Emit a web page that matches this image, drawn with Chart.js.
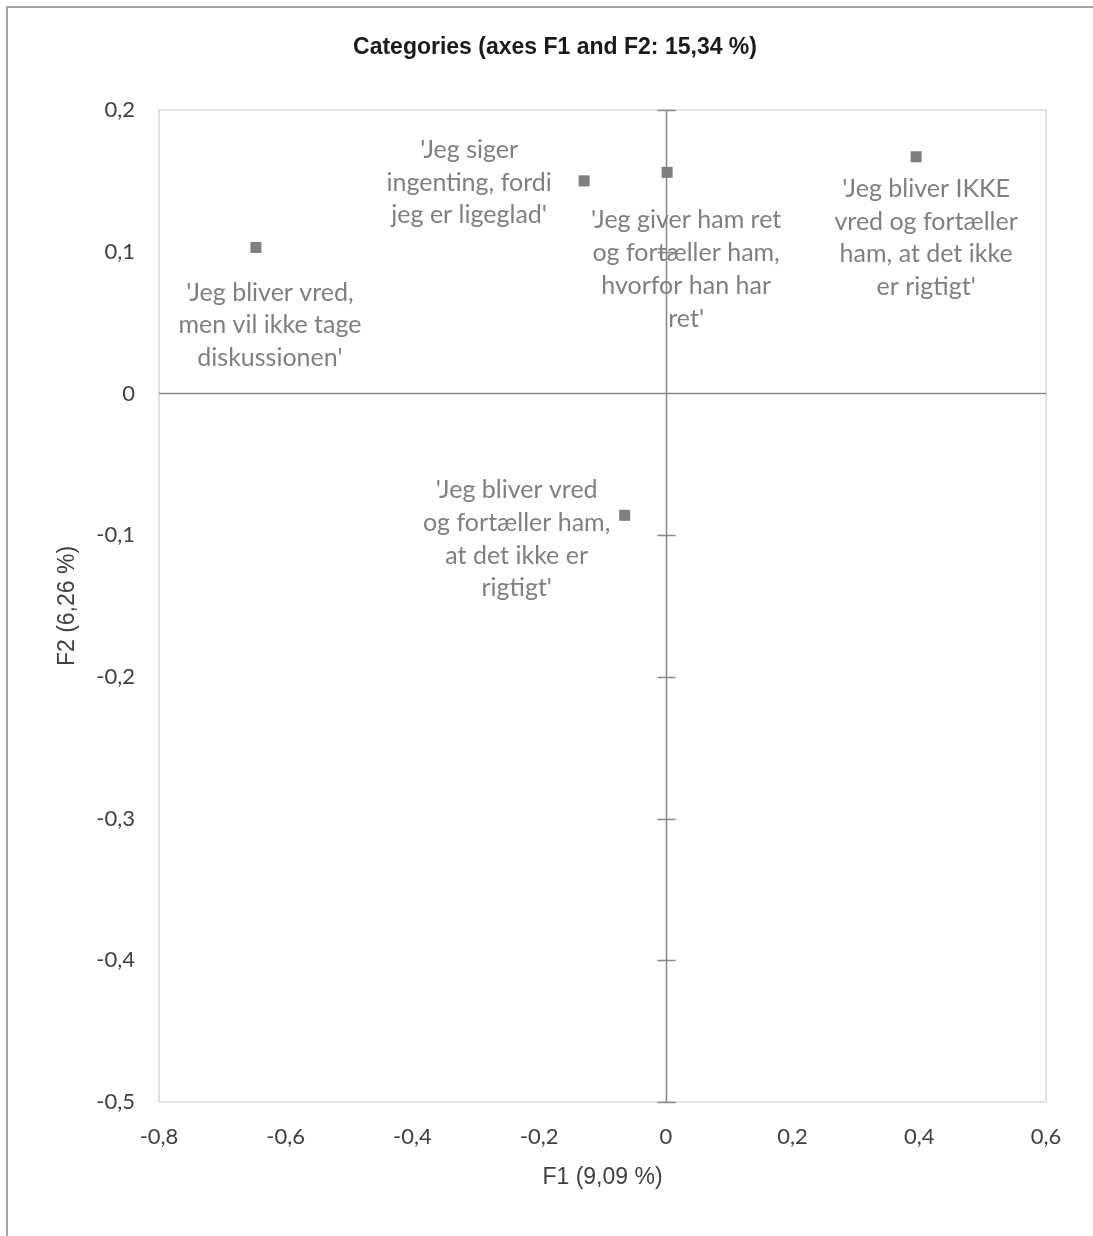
<!DOCTYPE html>
<html lang="da">
<head>
    <meta charset="UTF-8">
    <title>Categories (axes F1 and F2)</title>
    <script src="https://cdn.jsdelivr.net/npm/chart.js"></script>
    <style>
        body {
            margin: 0;
            padding: 0;
            background: #ffffff;
        }
        #ramme {
            position: absolute;
            left: 6px;
            top: 6px;
            width: 1200px;
            height: 1300px;
            border-left: 2px solid #a5a5a5;
            border-top: 2px solid #a5a5a5;
        }
        #graf {
            position: absolute;
            left: 0;
            top: 0;
        }
    </style>
</head>
<body>
<div id="ramme"></div>
<canvas id="graf" width="1093" height="1236"></canvas>
<script>
    // data
    const kategorier = [
        ["'Jeg bliver vred,", "men vil ikke tage", "diskussionen'"],
        ["'Jeg siger", "ingenting, fordi", "jeg er ligeglad'"],
        ["'Jeg giver ham ret", "og fortæller ham,", "hvorfor han har", "ret'"],
        ["'Jeg bliver IKKE", "vred og fortæller", "ham, at det ikke", "er rigtigt'"],
        ["'Jeg bliver vred", "og fortæller ham,", "at det ikke er", "rigtigt'"]
    ];
    const f1 = [-0.647, -0.129, 0.002, 0.395, -0.065];
    const f2 = [0.103, 0.150, 0.156, 0.167, -0.086];
    const xTicks = [-0.8, -0.6, -0.4, -0.2, 0, 0.2, 0.4, 0.6];
    const yTicks = [-0.5, -0.4, -0.3, -0.2, -0.1, 0, 0.1, 0.2];
    const titel = 'Categories (axes F1 and F2: 15,34 %)';

    // placering af etiketter i forhold til punktet (px)
    const etiketDx = [14, -115, 19, 10, -108];
    const etiketDy = [45, -31, 48, 32, -25];

    function komma(v) {
        const r = Math.round(v * 10) / 10;
        return r === 0 ? '0' : r.toFixed(1).replace('.', ',');
    }

    const tekstFont = "Lato, 'Open Sans', sans-serif";
    const arialFont = "'Liberation Sans', Arial, sans-serif";

    // ramme om plotområdet, akser gennem 0, etiketter og titel
    const plotPynt = {
        id: 'plotPynt',
        beforeDatasetsDraw(chart) {
            const ctx = chart.ctx;
            const a = chart.chartArea;
            const x = chart.scales.x, y = chart.scales.y;
            ctx.save();
            ctx.strokeStyle = '#d9d9d9';
            ctx.lineWidth = 1.5;
            ctx.strokeRect(a.left, a.top, a.right - a.left, a.bottom - a.top);

            const x0 = Math.round(x.getPixelForValue(0)) + 0.5;
            const y0 = Math.round(y.getPixelForValue(0)) + 0.5;
            ctx.strokeStyle = '#868686';
            ctx.lineWidth = 1.5;
            ctx.beginPath();
            ctx.moveTo(a.left, y0);
            ctx.lineTo(a.right, y0);
            ctx.moveTo(x0, a.top);
            ctx.lineTo(x0, a.bottom);
            yTicks.forEach(v => {
                const py = Math.round(y.getPixelForValue(v)) + 0.5;
                ctx.moveTo(x0 - 9, py);
                ctx.lineTo(x0 + 9, py);
            });
            ctx.stroke();
            ctx.restore();
        },
        afterDatasetsDraw(chart) {
            const ctx = chart.ctx;
            const meta = chart.getDatasetMeta(0);
            ctx.save();
            ctx.fillStyle = '#7f7f7f';
            ctx.font = '25px ' + tekstFont;
            ctx.textAlign = 'center';
            ctx.textBaseline = 'middle';
            meta.data.forEach((pt, i) => {
                const cx = pt.x + etiketDx[i];
                const cy = pt.y + etiketDy[i];
                kategorier[i].forEach((linje, j) => {
                    ctx.fillText(linje, cx, cy + j * 32.7);
                });
            });

            ctx.fillStyle = '#1a1a1a';
            ctx.font = 'bold 23px ' + arialFont;
            ctx.fillText(titel, 555, 48);
            ctx.restore();
        }
    };

    const ctx = document.getElementById('graf').getContext('2d');
    const graf = new Chart(ctx, {
        type: 'scatter',
        data: {
            datasets: [{
                label: 'Kategorier',
                data: f1.map((v, i) => ({ x: v, y: f2[i] })),
                pointStyle: 'rect',
                pointRadius: 7.8,
                pointHoverRadius: 7.8,
                backgroundColor: '#7f7f7f',
                borderWidth: 0
            }]
        },
        options: {
            responsive: false,
            animation: false,
            layout: {
                padding: { left: 0, right: 47, top: 110, bottom: 0 }
            },
            plugins: {
                legend: { display: false },
                tooltip: { enabled: false },
                title: { display: false }
            },
            scales: {
                x: {
                    type: 'linear',
                    min: -0.8,
                    max: 0.6,
                    afterBuildTicks(s) { s.ticks = xTicks.map(v => ({ value: v })); },
                    afterFit(s) { s.height = 1236 - 1102; },
                    grid: { display: false, drawTicks: false },
                    border: { display: false },
                    ticks: {
                        padding: 22,
                        color: '#404040',
                        font: { family: tekstFont, size: 22 },
                        callback: v => komma(v)
                    },
                    title: {
                        display: true,
                        text: 'F1 (9,09 %)',
                        color: '#404040',
                        font: { family: arialFont, size: 23 },
                        padding: { top: 0, bottom: 45 }
                    }
                },
                y: {
                    type: 'linear',
                    min: -0.5,
                    max: 0.2,
                    afterBuildTicks(s) { s.ticks = yTicks.map(v => ({ value: v })); },
                    afterFit(s) { s.width = 159; },
                    grid: { display: false, drawTicks: false },
                    border: { display: false },
                    ticks: {
                        padding: 24,
                        color: '#404040',
                        font: { family: tekstFont, size: 22 },
                        callback: v => komma(v)
                    },
                    title: {
                        display: true,
                        text: 'F2 (6,26 %)',
                        color: '#404040',
                        font: { family: arialFont, size: 23 },
                        padding: { top: 54, bottom: 0 }
                    }
                }
            }
        },
        plugins: [plotPynt]
    });
</script>
</body>
</html>
